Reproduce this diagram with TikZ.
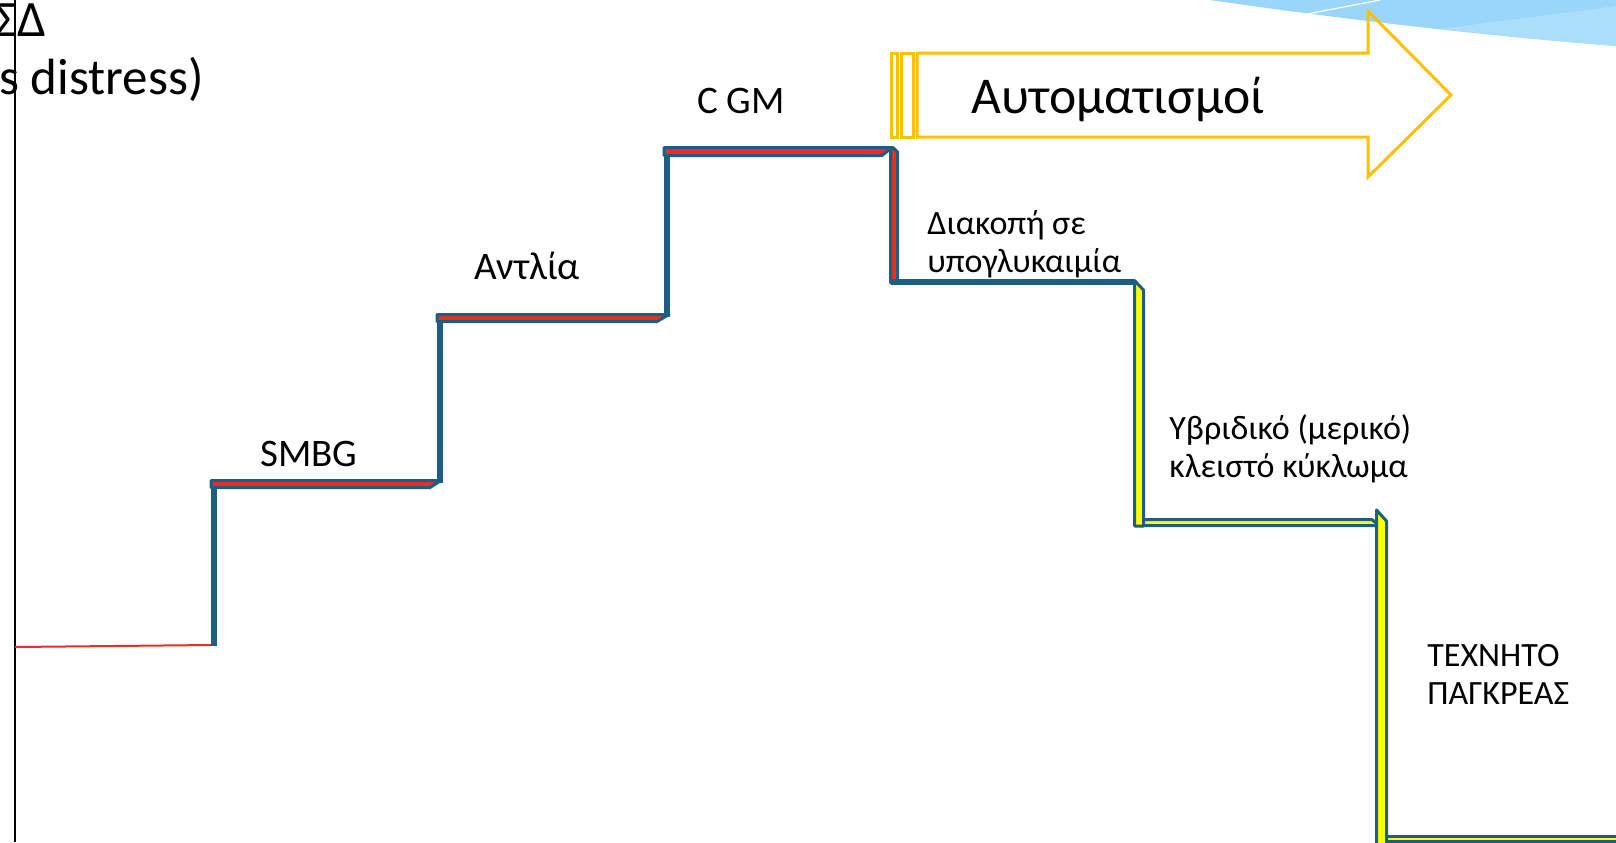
\documentclass[tikz,border=0pt]{standalone}
\usepackage{fontspec}
\setmainfont{Carlito}

\definecolor{stepblue}{RGB}{30,94,132}
\definecolor{stepred}{RGB}{236,45,36}
\definecolor{stepyellow}{RGB}{255,255,0}
\definecolor{arrowgold}{RGB}{255,192,0}
\definecolor{skyblue}{RGB}{153,214,250}
\definecolor{skylight}{RGB}{170,222,251}

\begin{document}
\begin{tikzpicture}[x=0.5pt, y=-0.5pt,
  riser/.style={draw=stepblue, line width=3pt},
  tread/.style={fill=stepred, draw=stepblue, line width=1.5pt, line join=round},
  drop/.style={fill=stepyellow, draw=stepblue, line width=1.5pt, line join=round},
  steptext/.style={font=\fontsize{19.5}{23}\selectfont, inner sep=0pt},
  sidenote/.style={font=\fontsize{17}{19}\selectfont, align=left, inner sep=0pt}]

  \fill[white] (0,0) rectangle (1616,842);
  \useasboundingbox (0,0) rectangle (1616,842);

  % Corner swoosh
  \fill[skyblue] (1210,0) .. controls (1300,13) and (1450,33) .. (1616,46) -- (1616,0) -- cycle;
  \fill[skylight] (1440,29) -- (1616,6) -- (1616,46) .. controls (1540,40) and (1480,33) .. (1440,29);
  \draw[white, line width=0.6pt] (1307,14) -- (1380,0);

  % Title (cut at the left edge)
  \node[font=\fontsize{25.5}{30}\selectfont, inner sep=0pt, anchor=base east] (sd) at (47,36) {ΣΔ};
  \node[font=\fontsize{25.5}{30}\selectfont, inner sep=0pt, anchor=base east] (distress) at (204,94) {s distress)};

  % Axis and start level
  \draw[black, line width=1pt] (15,0) -- (15,842);
  \draw[stepred, line width=1pt] (15,647) -- (211,645);

  % Steps up
  \draw[riser] (213.5,646) -- (213.5,481);
  \draw[tread] (211,480.5) -- (441,480.5) -- (430,487.5) -- (211,487.5) -- cycle;
  \draw[riser] (440,483) -- (440,315);
  \draw[tread] (437,314.5) -- (669,314.5) -- (657,321.5) -- (437,321.5) -- cycle;
  \draw[riser] (667,317) -- (667,148);
  \draw[tread] (664,147.5) -- (892,147.5) -- (882,155.5) -- (664,155.5) -- cycle;

  % Steps down
  \draw[tread] (890.5,150) -- (893,147.5) -- (897.5,152) -- (897.5,283) -- (890.5,283) -- cycle;
  \draw[riser] (890.5,282) -- (1134,282);
  \draw[drop] (1134.5,280.5) -- (1143.5,290) -- (1143.5,526) -- (1134.5,526) -- cycle;
  \draw[drop] (1143.5,519.5) -- (1372,519.5) -- (1376,523) -- (1376,525.5) -- (1143.5,525.5) -- cycle;
  \draw[drop] (1630,836.5) -- (1386.5,836.5) -- (1386.5,841) -- (1630,841);
  \draw[drop] (1376.5,510) -- (1386.5,521) -- (1386.5,850) -- (1376.5,850) -- cycle;

  % Step labels
  \node[steptext, anchor=base] (smbg) at (309,466) {SMBG};
  \node[steptext, anchor=base] (pump) at (527,279) {Αντλία};
  \node[steptext, anchor=base] (cgm) at (741,113) {C GM};
  \node[sidenote, anchor=base west] (stop) at (927,272) {Διακοπή σε\\υπογλυκαιμία};
  \node[sidenote, anchor=base west] (hybrid) at (1169,477) {Υβριδικό (μερικό)\\κλειστό κύκλωμα};
  \node[sidenote, anchor=base west] (artpanc) at (1427,704) {ΤΕΧΝΗΤΟ\\ΠΑΓΚΡΕΑΣ};

  % Striped arrow
  \draw[arrowgold, line width=1.5pt, line join=miter]
    (917,53) -- (1368,53) -- (1368,11) -- (1451,95) -- (1368,177) -- (1368,137) -- (917,137) -- cycle;
  \draw[arrowgold, line width=1.5pt] (891,53) rectangle (897,137);
  \draw[arrowgold, line width=1.5pt] (901,53) rectangle (913,137);
  \node[font=\fontsize{25.8}{31}\selectfont, inner sep=0pt, anchor=base] (auto) at (1118,113) {Αυτοματισμοί};

\end{tikzpicture}
\end{document}
